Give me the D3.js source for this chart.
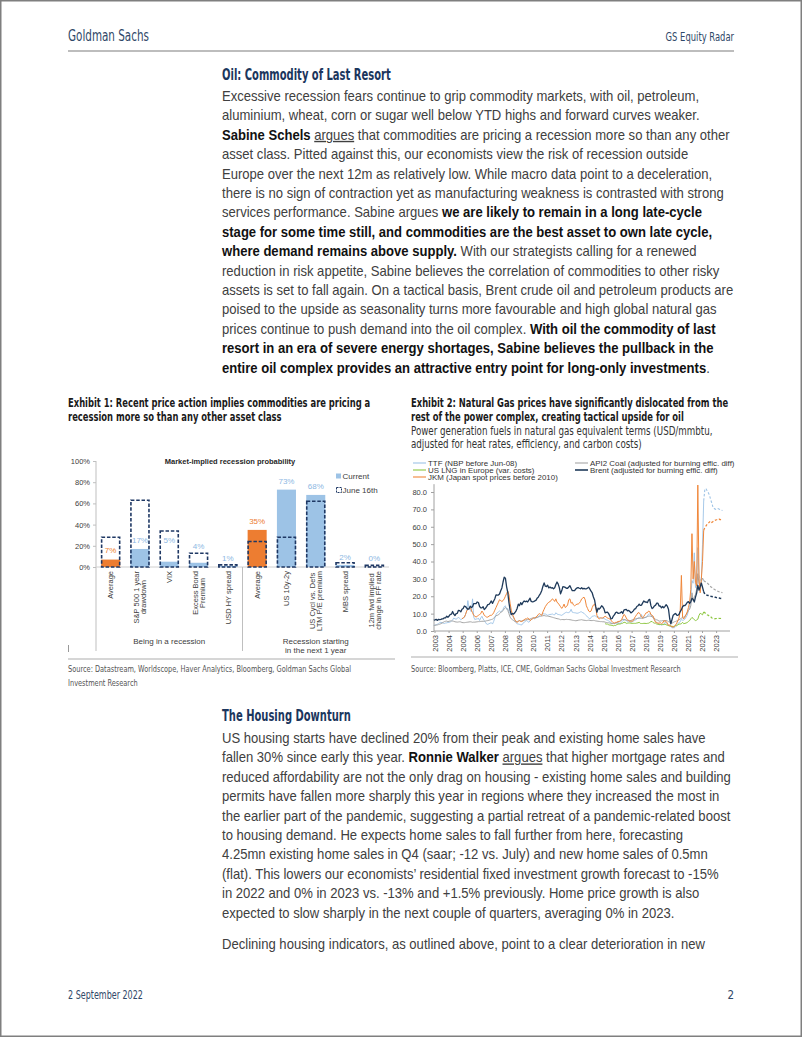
<!DOCTYPE html>
<html><head><meta charset="utf-8">
<script src="https://cdn.jsdelivr.net/npm/d3@7"></script>
<style>body{margin:0;background:#fff}svg{display:block}</style>
</head><body><svg id="page" width="802" height="1037"></svg>
<script>
// ---------------- DATA ----------------
// Exhibit 1
const c1Cats = ["Average","S&P 500 1 year|drawdown","VIX","Excess Bond|Premium","USD HY spread","Average","US 10y-2y","US Cycl vs. Defs|LTM P/E premium","MBS spread","12m fwd implied|change in FF rate"];
const c1Current = [7,17,5,4,1,35,73,68,2,0];
const c1June = [28,63,34,13,2,24,28,62,4,1.5];
const c1IsAverage = [true,false,false,false,false,true,false,false,false,false];
const c1LabelAt = [16,25.5,25.5,19.8,8.8,43,81,76.7,9.7,8.8];
const c1Groups = ["Being in a recession","Recession starting|in the next 1 year"];
const c1YTicks = [0,20,40,60,80,100];
const c1Legend = ["Current","June 16th"];

// Exhibit 2 (USD/mmbtu, monthly)
const years = d3.range(2003,2024);
const c2YTicks = [0,10,20,30,40,50,60,70,80];
const brentStart = [2003,6];
const brent = [6.2,6.4,6.7,6.1,6.7,6.5,6.7,
7.0,7.0,7.6,7.5,8.5,7.9,8.6,9.6,9.7,11.2,9.7,8.9,
10.0,10.2,11.9,11.7,11.0,12.5,13.0,14.4,14.1,13.2,12.5,12.8,
14.3,13.5,14.0,15.8,15.8,15.7,16.7,16.4,14.1,13.3,13.3,14.0,
12.3,13.0,14.0,15.2,15.3,16.2,17.3,15.9,17.3,18.6,20.8,20.6,
20.7,21.3,23.2,24.8,28.2,31.0,30.4,25.6,22.3,16.4,12.0,9.4,
10.1,9.7,10.5,11.5,13.0,15.4,14.6,16.3,15.2,16.5,17.3,16.8,
17.2,16.7,17.8,18.9,17.0,16.8,16.9,17.3,17.6,18.8,19.4,20.7,
21.7,23.3,25.8,27.7,25.8,25.6,26.3,24.8,25.4,24.7,24.9,24.3,
24.9,26.8,28.2,27.0,24.8,21.4,23.1,25.5,25.4,25.1,24.6,24.6,
25.3,26.1,24.6,23.2,23.2,23.2,24.2,24.8,25.0,24.6,24.3,24.9,
24.2,24.5,24.2,24.3,24.7,25.2,24.1,22.9,21.9,19.6,17.9,14.0,
10.8,13.1,12.6,13.4,14.5,13.9,12.7,10.5,10.7,10.9,10.0,8.6,
6.9,7.2,8.6,9.4,10.6,10.9,10.1,10.3,10.5,11.1,10.1,12.0,
12.3,12.4,11.6,11.8,11.3,10.4,10.9,11.6,12.6,12.9,14.1,14.5,
15.5,14.7,14.9,16.2,17.3,16.7,16.7,16.3,17.8,18.2,14.6,12.9,
13.4,14.4,14.9,16.0,16.0,14.4,14.4,13.3,14.1,13.4,14.2,15.1,
14.3,12.5,7.2,4.1,6.6,9.1,9.7,10.1,9.2,9.0,9.6,11.2,
12.3,14.0,14.7,14.6,15.4,16.5,16.9,15.9,16.8,18.8,18.2,16.7,
19.5,21.8,26.4,23.5,25.5,27.6,25.2,22.6];
const brentFwd = [22.6,21.2,20.9,20.6,20.4,20.2,20.0,19.8,19.7,19.5,19.4,19.2,19.1,19.0,18.8,18.7,18.6];

const ttfStart = [2003,6];
const ttf = [3.2,3.4,3.6,3.9,4.3,4.8,5.0,
4.8,4.5,4.3,4.6,4.7,4.9,5.0,5.2,5.6,6.4,7.5,7.0,
6.8,7.2,8.0,7.2,6.5,7.0,7.6,7.8,9.5,11.5,17.5,13.0,
12.0,11.0,18.5,8.0,6.5,7.0,6.8,7.5,6.0,7.5,8.5,7.0,
6.0,5.0,4.0,3.8,4.2,4.5,4.8,4.0,5.5,7.5,9.5,10.5,
11.0,11.5,11.0,11.5,12.5,14.0,14.5,12.5,13.0,11.0,10.0,9.5,
9.0,7.5,6.0,4.8,4.2,4.0,3.8,3.6,3.5,4.5,5.0,5.5,
6.0,5.5,5.0,5.8,6.5,7.0,7.2,7.0,7.5,7.8,8.0,9.0,
9.2,9.5,10.0,9.8,9.8,9.5,9.0,9.3,9.5,9.6,9.8,9.4,
9.3,10.5,9.8,9.5,9.4,9.2,9.0,9.5,10.0,10.5,10.8,10.6,
10.6,11.0,12.5,10.8,10.6,10.5,10.4,10.2,10.3,10.6,11.0,11.0,
10.5,10.2,9.5,8.8,8.0,7.5,7.0,7.6,8.5,8.6,8.8,8.5,
8.0,8.2,7.8,7.6,7.4,7.3,7.2,6.8,6.4,6.2,5.8,5.4,
4.8,4.2,4.3,4.2,4.3,4.6,4.5,4.3,4.2,5.2,5.8,6.2,
6.8,6.0,5.4,5.3,5.4,5.0,5.3,5.6,6.0,6.4,6.8,7.5,
7.5,7.8,9.5,7.4,7.8,7.6,8.0,8.6,9.7,9.8,9.3,8.8,
7.8,6.3,5.6,5.0,4.3,3.5,3.7,3.4,3.6,3.9,5.0,4.6,
4.0,3.3,2.9,2.5,1.8,1.9,1.8,2.8,3.6,4.4,4.8,5.3,
6.8,6.2,6.3,6.9,8.0,9.2,11.6,13.5,19.5,29.0,27.5,45.0,
25.0,27.0,48.0,32.5,29.0,30.0,50.0,75.0];
const ttfFwd = [75.0,81.5,82.0,80.5,79.5,78.0,75.5,73.5,71.0,70.5,70.0,70.3,70.5,70.2,69.8,69.5,69.3];

const jkmStart = [2005,6];
const jkm = [7.0,7.5,8.0,9.5,11.5,12.5,13.0,
13.5,12.0,10.5,9.0,8.5,8.0,8.5,9.0,9.5,10.0,11.5,10.5,
9.0,8.5,8.0,8.0,8.5,9.0,9.0,9.5,10.5,12.0,13.5,15.0,
16.5,18.0,17.5,17.0,17.5,18.5,20.0,21.5,23.0,21.0,16.0,12.0,
9.5,8.0,6.5,5.5,5.0,5.5,6.0,5.5,5.5,6.0,6.5,7.0,
7.0,7.5,7.0,6.0,6.5,7.0,7.5,7.5,8.0,8.5,9.5,10.0,
9.5,9.0,11.0,12.5,14.0,15.0,16.0,16.5,17.0,17.5,18.5,18.0,
17.0,18.5,16.5,16.0,15.0,14.0,13.0,14.0,15.5,13.5,14.0,15.0,
18.0,18.5,16.0,16.5,15.0,14.5,15.0,15.5,15.5,16.0,17.0,18.5,
19.0,19.5,18.0,14.5,13.0,11.5,11.0,11.5,13.5,15.0,15.5,13.5,
9.0,7.5,7.0,7.5,7.5,7.5,8.0,8.5,8.0,7.5,7.2,7.0,
6.0,5.5,4.7,4.5,5.0,5.0,5.5,5.5,6.0,6.5,8.0,9.5,
9.0,7.5,6.5,5.8,5.6,5.7,5.6,6.0,7.5,8.5,9.5,10.5,
10.5,9.5,8.0,7.5,8.5,9.5,10.5,10.5,11.5,11.2,9.5,9.0,
8.5,6.5,5.0,4.8,4.5,4.5,4.8,4.2,4.6,5.8,5.8,5.5,
4.5,3.2,3.5,2.8,2.4,2.2,2.6,3.5,4.5,6.0,7.5,12.0,
32.0,8.0,7.0,8.0,9.5,11.0,13.5,16.5,24.0,56.0,30.0,40.0,
28.0,26.0,84.0,30.0,22.0,30.0,40.0,58.0];
const jkmFwd = [58.0,59.5,60.5,61.5,62.0,62.8,63.3,62.5,63.0,63.5,63.8,64.0,64.3,64.5,64.0,64.5,64.3];

const coalStart = [2003,6];
const coal = [3.2,3.3,3.4,3.5,3.7,3.9,4.2,
4.6,5.0,5.4,5.6,5.7,5.4,5.6,5.8,5.8,5.7,5.6,5.3,
5.2,5.1,5.2,5.3,5.2,4.9,4.8,4.8,4.9,5.0,5.1,5.2,
5.3,5.2,5.0,5.1,5.1,5.2,5.3,5.4,5.4,5.5,5.6,5.6,
5.6,5.7,5.9,6.0,6.2,6.4,6.6,6.8,7.4,8.0,8.8,9.0,
9.2,10.0,10.8,11.0,11.8,12.8,13.5,13.0,12.0,10.0,8.0,7.0,
6.5,6.0,5.5,5.3,5.4,5.8,5.9,5.8,5.7,5.9,6.1,6.3,
6.5,6.6,6.6,6.9,7.2,7.5,7.6,7.6,7.6,7.9,8.1,8.3,
8.5,8.6,8.8,8.9,8.7,8.6,8.6,8.4,8.3,8.1,7.9,7.7,
7.5,7.3,7.1,7.0,6.8,6.5,6.6,6.6,6.5,6.6,6.7,6.6,
6.6,6.5,6.4,6.2,6.1,6.0,5.9,6.0,6.2,6.3,6.4,6.5,
6.3,6.2,6.1,6.0,6.1,6.2,6.1,6.0,6.0,6.1,6.0,5.8,
5.7,5.6,5.5,5.4,5.4,5.3,5.3,5.1,4.9,4.8,4.7,4.6,
4.4,4.3,4.4,4.5,4.6,4.9,5.1,5.3,5.6,6.0,6.8,6.6,
6.4,6.2,6.0,6.2,6.0,6.0,6.4,6.5,6.8,7.0,7.2,7.3,
7.4,7.3,7.3,7.2,7.5,7.8,8.0,8.3,8.5,8.6,8.5,8.2,
7.6,7.2,6.7,6.4,6.2,5.6,5.8,5.8,6.0,6.0,5.9,6.1,
5.8,5.4,5.1,4.7,4.5,4.9,5.3,5.5,5.8,6.1,6.4,6.9,
7.4,7.6,8.0,8.6,9.3,10.5,11.8,12.5,14.5,22.0,17.5,19.5,
21.0,24.0,33.0,27.0,26.5,28.5,30.5,29.0];
const coalFwd = [29.0,28.5,28.0,27.6,27.0,26.2,25.5,25.0,24.5,24.0,23.6,23.2,22.9,22.6,22.4,22.2,22.0];

const lngStart = [2015,8];
const lng = [4.2,4.0,4.0,3.6,3.4,
3.4,3.2,3.0,3.2,3.2,3.7,4.0,4.0,4.1,4.3,4.5,5.0,
5.0,4.4,4.5,4.6,4.6,4.5,4.4,4.4,4.4,4.4,4.6,4.7,
5.0,4.4,4.3,4.3,4.4,4.4,4.3,4.4,4.5,4.9,5.4,5.5,
4.8,4.5,4.5,4.0,3.9,3.8,3.8,3.7,3.8,3.7,4.0,3.6,
3.3,3.1,2.9,2.8,2.7,2.6,2.7,3.2,3.0,3.6,4.0,4.0,
4.2,5.0,4.2,4.4,4.6,4.9,5.5,6.0,7.0,7.8,7.3,6.5,
6.0,6.3,6.8,9.0,10.2,9.8,9.3,11.0];
const lngFwd = [11.0,10.5,9.8,9.3,9.0,8.5,8.2,7.5,7.2,7.0,7.1,7.2,7.3,7.3,7.2,7.3,7.4];
const fwdStart = [2022,8];

const c2Legend = [
  {name:"TTF (NBP before Jun-08)", key:"ttf"},
  {name:"US LNG in Europe (var. costs)", key:"lng"},
  {name:"JKM (Japan spot prices before 2010)", key:"jkm"},
  {name:"API2 Coal (adjusted for burning effic. diff)", key:"coal"},
  {name:"Brent  (adjusted for  burning effic. diff)", key:"brent"}
];

// Text content
const oilLines = [
 "Excessive recession fears continue to grip commodity markets, with oil, petroleum,",
 "aluminium, wheat, corn or sugar well below YTD highs and forward curves weaker.",
 "**Sabine Schels** __argues__ that commodities are pricing a recession more so than any other",
 "asset class. Pitted against this, our economists view the risk of recession outside",
 "Europe over the next 12m as relatively low. While macro data point to a deceleration,",
 "there is no sign of contraction yet as manufacturing weakness is contrasted with strong",
 "services performance. Sabine argues **we are likely to remain in a long late-cycle**",
 "**stage for some time still, and commodities are the best asset to own late cycle,**",
 "**where demand remains above supply.** With our strategists calling for a renewed",
 "reduction in risk appetite, Sabine believes the correlation of commodities to other risky",
 "assets is set to fall again. On a tactical basis, Brent crude oil and petroleum products are",
 "poised to the upside as seasonality turns more favourable and high global natural gas",
 "prices continue to push demand into the oil complex. **With oil the commodity of last**",
 "**resort in an era of severe energy shortages, Sabine believes the pullback in the**",
 "**entire oil complex provides an attractive entry point for long-only investments**."
];
const housingLines = [
 "US housing starts have declined 20% from their peak and existing home sales have",
 "fallen 30% since early this year. **Ronnie Walker** __argues__ that higher mortgage rates and",
 "reduced affordability are not the only drag on housing - existing home sales and building",
 "permits have fallen more sharply this year in regions where they increased the most in",
 "the earlier part of the pandemic, suggesting a partial retreat of a pandemic-related boost",
 "to housing demand. He expects home sales to fall further from here, forecasting",
 "4.25mn existing home sales in Q4 (saar; -12 vs. July) and new home sales of 0.5mn",
 "(flat). This lowers our economists\u2019 residential fixed investment growth forecast to -15%",
 "in 2022 and 0% in 2023 vs. -13% and +1.5% previously. Home price growth is also",
 "expected to slow sharply in the next couple of quarters, averaging 0% in 2023."
];
const declLine = "Declining housing indicators, as outlined above, point to a clear deterioration in new";

// ---------------- DRAW ----------------
const BODY = "'Liberation Sans', Arial, sans-serif";
const NARROW = "'Liberation Sans Narrow', 'Arial Narrow', 'DejaVu Sans Condensed', sans-serif";
const F1 = "'Liberation Sans', Arial, sans-serif";
const svg = d3.select("#page");
svg.append("rect").attr("x",0.75).attr("y",0.75).attr("width",800.5).attr("height",1035.5)
  .attr("fill","#fff").attr("stroke","#7f7f7f").attr("stroke-width",1.5);

// text with bold/underline runs; positioned by transform so it can be scaled horizontally
function rich(g, x, y, src, o){
  const t = g.append("text").attr("transform",`translate(${x},${y})`)
    .attr("font-size",o.size).attr("fill",o.fill||"#404040")
    .attr("font-family",o.family||BODY).attr("font-weight",o.weight||"normal");
  t.datum({x,y});
  if(o.anchor) t.attr("text-anchor",o.anchor);
  src.split(/(\*\*[^*]+\*\*|__[^_]+__)/).filter(s=>s.length).forEach(p=>{
    const ts = t.append("tspan");
    if(p.startsWith("**")) ts.text(p.slice(2,-2)).attr("font-weight","bold").attr("fill",o.boldFill||"#111");
    else if(p.startsWith("__")) ts.text(p.slice(2,-2)).attr("text-decoration","underline");
    else ts.text(p);
  });
  return t;
}
// scale a set of texts by a common horizontal factor, so that texts[ref] gets width w
function fit(texts, ref, w){
  const k = w / texts[ref].node().getBBox().width;
  texts.forEach(t=>{ const d=t.datum(); t.attr("transform",`translate(${d.x},${d.y}) scale(${k},1)`); });
  return k;
}

// header / footer
const hdr = svg.append("g");
fit([rich(hdr,68,41,"Goldman Sachs",{size:15,fill:"#2f4868",family:NARROW})],0,81);
fit([rich(hdr,734,41,"GS Equity Radar",{size:11.5,fill:"#2f4868",family:NARROW,anchor:"end"})],0,69);
hdr.append("line").attr("x1",68).attr("x2",734).attr("y1",51).attr("y2",51).attr("stroke","#bdbdbd").attr("stroke-width",2);
fit([rich(hdr,68,999,"2 September 2022",{size:11.5,fill:"#2f4868",family:NARROW})],0,75);
rich(hdr,734,999,"2",{size:11.5,fill:"#2f4868",family:NARROW,anchor:"end"});

// body text
const body = svg.append("g");
const heads = [
  rich(body,222,80,"Oil: Commodity of Last Resort",{size:15.5,fill:"#1b365d",family:NARROW,weight:"bold"}),
  rich(body,222,721,"The Housing Downturn",{size:15.5,fill:"#1b365d",family:NARROW,weight:"bold"})
];
fit(heads,0,169);
const bodyTexts = [];
oilLines.forEach((l,i)=>bodyTexts.push(rich(body,222,101+i*19.4,l,{size:14})));
housingLines.forEach((l,i)=>bodyTexts.push(rich(body,222,743+i*19.4,l,{size:14})));
bodyTexts.push(rich(body,222,949,declLine,{size:14}));
fit(bodyTexts,10,734-222);

// exhibit titles
const ex = svg.append("g");
const tOpt = {size:12.5,fill:"#1a1a1a",family:NARROW,weight:"bold",boldFill:"#1a1a1a"};
const titles = [
  rich(ex,68,407,"Exhibit 1: Recent price action implies commodities are pricing a",tOpt),
  rich(ex,68,421,"recession more so than any other asset class",tOpt),
  rich(ex,411,407,"Exhibit 2: Natural Gas prices have significantly dislocated from the",tOpt),
  rich(ex,411,421,"rest of the power complex, creating tactical upside for oil",tOpt)
];
fit(titles,1,282-68);
const subs = [
  rich(ex,411,435,"Power generation fuels in natural gas equivalent terms (USD/mmbtu,",{size:12,fill:"#333",family:NARROW}),
  rich(ex,411,448,"adjusted for heat rates, efficiency, and carbon costs)",{size:12,fill:"#333",family:NARROW})
];
fit(subs,0,713-411);
// sources
ex.append("line").attr("x1",68).attr("x2",395).attr("y1",659).attr("y2",659).attr("stroke","#c8c8c8").attr("stroke-width",1.5);
ex.append("line").attr("x1",411).attr("x2",738).attr("y1",657).attr("y2",657).attr("stroke","#c8c8c8").attr("stroke-width",1.5);
const srcs = [
  rich(ex,411,672,"Source: Bloomberg, Platts, ICE, CME, Goldman Sachs Global Investment Research",{size:9.5,fill:"#555",family:NARROW}),
  rich(ex,68,672,"Source: Datastream, Worldscope, Haver Analytics, Bloomberg, Goldman Sachs Global",{size:9.5,fill:"#555",family:NARROW}),
  rich(ex,68,686,"Investment Research",{size:9.5,fill:"#555",family:NARROW})
];
fit(srcs,0,681-411);
ex.append("line").attr("x1",68.5).attr("x2",68.5).attr("y1",645).attr("y2",652).attr("stroke","#999").attr("stroke-width",1);

// ---------------- Exhibit 1 chart ----------------
const ORANGE="#ed7d31", LBLUE="#9dc3e6", NAVY="#1f3864";
const g1 = svg.append("g");
const x1 = d3.scaleBand().domain(d3.range(c1Cats.length)).range([96,389]).paddingInner(0.35).paddingOuter(0.175);
const y1 = d3.scaleLinear().domain([0,100]).range([567,461]);
const ax1 = g1.append("g").attr("transform","translate(96,0)")
  .call(d3.axisLeft(y1).tickValues(c1YTicks).tickFormat(d=>d+"%").tickSize(3).tickPadding(3));
ax1.select(".domain").remove();
ax1.selectAll(".tick line").attr("stroke","#bfbfbf");
ax1.selectAll(".tick text").attr("font-size",7.5).attr("font-family",F1).attr("fill","#404040");
g1.append("line").attr("x1",96).attr("x2",96).attr("y1",y1(100)).attr("y2",651).attr("stroke","#bfbfbf");
g1.append("line").attr("x1",96).attr("x2",389).attr("y1",y1(0)).attr("y2",y1(0)).attr("stroke","#d0d0d0");
const sepX = (x1(4)+x1.bandwidth()+x1(5))/2;
g1.append("line").attr("x1",sepX).attr("x2",sepX).attr("y1",y1(0)).attr("y2",651).attr("stroke","#bfbfbf");
g1.selectAll("rect.cur").data(c1Current).join("rect").attr("class","cur")
  .attr("x",(d,i)=>x1(i)).attr("width",x1.bandwidth())
  .attr("y",d=>y1(d)).attr("height",d=>y1(0)-y1(d))
  .attr("fill",(d,i)=>c1IsAverage[i]?ORANGE:LBLUE);
g1.selectAll("rect.jun").data(c1June).join("rect").attr("class","jun")
  .attr("x",(d,i)=>x1(i)+0.5).attr("width",x1.bandwidth()-1)
  .attr("y",d=>y1(d)).attr("height",d=>y1(0)-y1(d))
  .attr("fill","none").attr("stroke",NAVY).attr("stroke-width",1.6).attr("stroke-dasharray","3.5,1.8");
g1.selectAll("text.val").data(c1Current).join("text").attr("class","val")
  .attr("x",(d,i)=>x1(i)+x1.bandwidth()/2).attr("y",(d,i)=>y1(c1LabelAt[i])+3)
  .attr("text-anchor","middle").attr("font-size",8).attr("font-family",F1)
  .attr("fill",(d,i)=>c1IsAverage[i]?ORANGE:"#8db8e3").text(d=>d+"%");
g1.append("text").attr("x",230).attr("y",464).attr("text-anchor","middle").attr("font-size",7.5)
  .attr("font-weight","bold").attr("font-family",F1).attr("fill","#262626").text("Market-implied recession probability");
[0,1].forEach(i=>{
  const ly = 476 + i*14;
  if(i===0) g1.append("rect").attr("x",336).attr("y",ly-2.5).attr("width",5).attr("height",5).attr("fill",LBLUE);
  else g1.append("rect").attr("x",336.5).attr("y",ly-2.5).attr("width",5).attr("height",5).attr("fill","none").attr("stroke",NAVY).attr("stroke-width",1).attr("stroke-dasharray","2,1");
  g1.append("text").attr("x",342.5).attr("y",ly+3).attr("font-size",8).attr("font-family",F1).attr("fill","#404040").text(c1Legend[i]);
});
c1Cats.forEach((c,i)=>{
  const lines = c.split("|");
  const cx = x1(i)+x1.bandwidth()/2;
  const ts = lines.map(ln=>g1.append("text").attr("font-size",7.5).attr("font-family",F1)
    .attr("fill","#404040").attr("text-anchor","middle").text(ln));
  const maxW = d3.max(ts, t=>t.node().getComputedTextLength());
  ts.forEach((t,j)=>{
    const bx = cx + 2.7 + (j-(lines.length-1)/2)*7;
    t.attr("transform",`translate(${bx},${571+maxW/2}) rotate(-90)`);
  });
});
const gx = [(96+sepX)/2, (sepX+389)/2];
c1Groups.forEach((gname,k)=>{
  gname.split("|").forEach((ln,j)=>{
    g1.append("text").attr("x",gx[k]).attr("y",644+j*8.5).attr("text-anchor","middle")
      .attr("font-size",8).attr("font-family",F1).attr("fill","#404040").text(ln);
  });
});

// ---------------- Exhibit 2 chart ----------------
const g2 = svg.append("g");
const x2 = d3.scaleLinear().domain([2003.5,2023.5]).range([435,716.6]);
const y2 = d3.scaleLinear().domain([0,80]).range([631,492]);
const COL = {ttf:"#9dc3e6", lng:"#8cc63f", jkm:"#f0873a", coal:"#a6a6a6", brent:"#1f3a5a"};
const WID = {ttf:0.9, lng:1, jkm:1, coal:1, brent:1.3};
const ax2 = g2.append("g").attr("transform","translate(434,0)")
  .call(d3.axisLeft(y2).tickValues(c2YTicks).tickFormat(d3.format(".1f")).tickSize(3).tickPadding(4));
ax2.select(".domain").remove();
ax2.selectAll(".tick line").attr("stroke","#a0a0a0");
ax2.selectAll(".tick text").attr("font-size",7.5).attr("font-family",F1).attr("fill","#404040");
g2.append("line").attr("x1",434).attr("x2",434).attr("y1",y2(0)).attr("y2",y2(84.5)).attr("stroke","#a0a0a0");
g2.append("line").attr("x1",434).attr("x2",730).attr("y1",y2(0)).attr("y2",y2(0)).attr("stroke","#a0a0a0");
years.forEach(yr=>{
  const xx = x2(yr+0.5);
  g2.append("line").attr("x1",xx).attr("x2",xx).attr("y1",y2(0)).attr("y2",y2(0)+2).attr("stroke","#a0a0a0");
  g2.append("text").attr("transform",`translate(${xx+2.7},635) rotate(-90)`).attr("text-anchor","end")
    .attr("font-size",7.5).attr("font-family",F1).attr("fill","#404040").text(yr);
});
const toPts = (start, vals) => vals.map((v,i)=>({t: start[0] + (start[1]-1+i)/12, v}));
const line2 = d3.line().x(d=>x2(d.t)).y(d=>y2(d.v));
const spot = {ttf:[ttfStart,ttf], coal:[coalStart,coal], lng:[lngStart,lng], jkm:[jkmStart,jkm], brent:[brentStart,brent]};
const fwd = {ttf:ttfFwd, coal:coalFwd, lng:lngFwd, jkm:jkmFwd, brent:brentFwd};
["ttf","coal","lng","jkm","brent"].forEach(k=>{
  g2.append("path").attr("d",line2(toPts(spot[k][0],spot[k][1]))).attr("fill","none")
    .attr("stroke",COL[k]).attr("stroke-width",WID[k]).attr("stroke-linejoin","round");
  g2.append("path").attr("d",line2(toPts(fwdStart,fwd[k]))).attr("fill","none")
    .attr("stroke",COL[k]).attr("stroke-width",WID[k]+0.2).attr("stroke-dasharray","2.5,1.8");
});
const legPos = [[413,463],[413,470],[413,477],[575,463],[575,470]];
const legTexts = c2Legend.map((d,i)=>{
  const [lx,ly] = legPos[i];
  g2.append("line").attr("x1",lx).attr("x2",lx+13).attr("y1",ly).attr("y2",ly)
    .attr("stroke",COL[d.key]).attr("stroke-width",d.key==="brent"?1.6:1.1);
  return rich(g2,lx+15,ly+2.6,d.name,{size:8,fill:"#333",family:F1});
});
fit(legTexts,3,735-590);
</script></body></html>
